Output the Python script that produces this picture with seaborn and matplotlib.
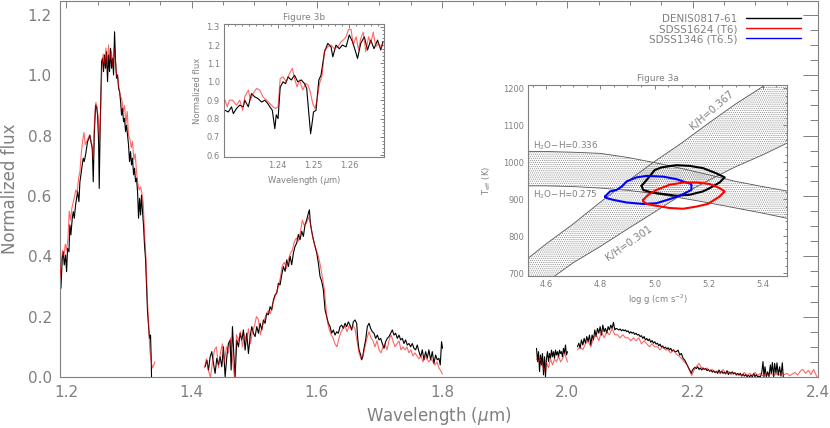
import numpy as np
import matplotlib
matplotlib.use("Agg")
import matplotlib.pyplot as plt
from matplotlib.lines import Line2D
from matplotlib.ticker import MultipleLocator, FixedLocator, FormatStrFormatter
import seaborn as sns

sns.set_style("white")
plt.rcParams['font.family'] = ['DejaVu Sans']
plt.rcParams['hatch.linewidth'] = 0.5
plt.rcParams['hatch.color'] = '#8c8c8c'

GRAY = '#808080'

# ---------------- main spectrum data (wavelength in micron, normalized flux) ----------------
j_wl_denis = [1.1899,1.1915,1.1936,1.1952,1.1968,1.1989,1.2005,1.2021,1.2043,1.2058,
              1.2074,1.2096,1.2112,1.2128,1.2149,1.2165,1.2181,1.2202,1.2218,1.2234,
              1.2255,1.2271,1.2287,1.2308,1.2324,1.2340,1.2362,1.2377,1.2393,1.2415,
              1.2431,1.2447,1.2468,1.2484,1.2500,1.2516,1.2526,1.2542,1.2564,1.2579,
              1.2595,1.2611,1.2627,1.2643,1.2659,1.2675,1.2691,1.2707,1.2723,1.2739,
              1.2755,1.2771,1.2787,1.2803,1.2819,1.2835,1.2851,1.2867,1.2883,1.2898,
              1.2914,1.2930,1.2946,1.2962,1.2978,1.2994,1.3010,1.3026,1.3042,1.3058,
              1.3074,1.3090,1.3106,1.3122,1.3138,1.3154,1.3170,1.3186,1.3201,1.3217,
              1.3233,1.3249,1.3265,1.3281,1.3297,1.3313,1.3329,1.3345,1.3356,1.3361]
j_fx_denis = [0.415,0.294,0.393,0.415,0.371,0.404,0.349,0.426,0.415,0.504,
              0.471,0.526,0.548,0.526,0.570,0.592,0.614,0.581,0.647,0.670,
              0.703,0.725,0.714,0.736,0.758,0.780,0.791,0.802,0.780,0.758,
              0.647,0.802,0.901,0.895,0.868,0.780,0.625,0.835,1.045,1.056,
              1.012,1.067,1.023,1.078,0.979,1.067,1.012,1.089,1.023,1.056,
              1.001,1.144,1.045,0.990,1.001,0.957,0.946,0.913,0.868,0.890,
              0.846,0.857,0.813,0.835,0.802,0.769,0.714,0.747,0.703,0.725,
              0.670,0.692,0.647,0.659,0.614,0.526,0.592,0.537,0.603,0.548,
              0.504,0.437,0.393,0.305,0.216,0.172,0.128,0.139,0.061,0.000]

j_wl_sdss1624 = [1.1899,1.1920,1.1942,1.1963,1.1984,1.2005,1.2027,1.2048,1.2069,1.2090,
                 1.2112,1.2133,1.2154,1.2175,1.2197,1.2218,1.2239,1.2260,1.2282,1.2303,
                 1.2324,1.2346,1.2367,1.2388,1.2409,1.2431,1.2452,1.2473,1.2494,1.2516,
                 1.2532,1.2548,1.2569,1.2590,1.2611,1.2633,1.2654,1.2675,1.2696,1.2718,
                 1.2739,1.2760,1.2781,1.2803,1.2824,1.2845,1.2867,1.2888,1.2909,1.2930,
                 1.2952,1.2973,1.2994,1.3015,1.3037,1.3058,1.3079,1.3100,1.3122,1.3143,
                 1.3164,1.3186,1.3207,1.3228,1.3249,1.3271,1.3292,1.3313,1.3334,1.3356,
                 1.3377,1.3398,1.3414]
j_fx_sdss1624 = [0.33,0.38,0.42,0.40,0.44,0.42,0.46,0.55,0.52,0.56,
                 0.58,0.60,0.62,0.61,0.66,0.68,0.74,0.78,0.81,0.77,
                 0.78,0.79,0.80,0.79,0.77,0.72,0.86,0.91,0.89,0.84,
                 0.78,0.88,1.03,1.07,1.04,1.09,1.03,1.10,1.05,1.08,
                 1.03,1.09,1.06,1.00,0.99,0.95,0.93,0.92,0.88,0.90,
                 0.84,0.88,0.80,0.79,0.76,0.78,0.72,0.74,0.68,0.64,
                 0.62,0.63,0.61,0.58,0.48,0.40,0.27,0.18,0.09,0.05,
                 0.03,0.04,0.05]

h_wl_denis = [1.4217,1.4244,1.4270,1.4297,1.4323,1.4350,1.4376,1.4403,1.4430,1.4456,
              1.4483,1.4509,1.4536,1.4563,1.4589,1.4616,1.4632,1.4653,1.4674,1.4695,
              1.4722,1.4749,1.4775,1.4802,1.4828,1.4855,1.4881,1.4908,1.4935,1.4961,
              1.4988,1.5014,1.5041,1.5068,1.5094,1.5121,1.5147,1.5174,1.5200,1.5227,
              1.5254,1.5280,1.5307,1.5333,1.5360,1.5386,1.5413,1.5440,1.5466,1.5493,
              1.5519,1.5546,1.5573,1.5599,1.5626,1.5652,1.5679,1.5705,1.5732,1.5759,
              1.5785,1.5812,1.5838,1.5865,1.5881,1.5897,1.5918,1.5945,1.5971,1.5998,
              1.6024,1.6051,1.6078,1.6104,
              1.6131,1.6157,1.6184,1.6211,1.6237,1.6264,1.6290,1.6317,1.6343,1.6370,
              1.6397,1.6423,1.6450,1.6476,1.6503,1.6529,1.6556,1.6583,1.6609,1.6636,
              1.6652,1.6673,1.6700,1.6716,1.6732,1.6753,1.6779,1.6806,1.6833,1.6859,
              1.6886,1.6912,1.6939,1.6966,1.6992,1.7019,1.7045,1.7072,1.7098,1.7125,
              1.7152,1.7178,1.7205,1.7231,1.7258,1.7285,1.7311,1.7338,1.7364,1.7391,
              1.7417,1.7444,1.7471,1.7497,1.7524,1.7550,1.7577,1.7603,1.7630,1.7657,
              1.7683,1.7710,1.7736,1.7763,1.7789,1.7816,1.7843,1.7869,1.7896,1.7922,
              1.7949,1.7970,1.7991,1.8007]
h_fx_denis = [0.034,0.056,0.023,0.067,0.084,0.045,0.012,0.062,0.040,0.067,
              0.034,0.100,0.000,0.067,0.111,0.122,0.023,0.167,0.078,0.000,
              0.122,0.100,0.145,0.122,0.156,0.089,0.145,0.078,0.134,0.167,
              0.145,0.134,0.167,0.145,0.178,0.156,0.189,0.178,0.211,0.206,
              0.233,0.222,0.255,0.272,0.278,0.311,0.305,0.339,0.366,0.350,
              0.388,0.366,0.400,0.372,0.411,0.433,0.444,0.472,0.455,0.483,
              0.466,0.505,0.521,0.543,0.554,0.510,0.483,0.455,0.433,0.411,
              0.378,0.333,0.317,0.289,
              0.222,0.200,0.178,0.167,0.145,0.156,0.139,0.150,0.145,0.167,
              0.172,0.161,0.178,0.167,0.183,0.172,0.156,0.183,0.189,0.178,
              0.128,0.090,0.073,0.057,0.067,0.095,0.123,0.167,0.178,0.161,
              0.150,0.145,0.128,0.139,0.123,0.128,0.111,0.095,0.117,0.128,
              0.134,0.145,0.156,0.139,0.145,0.128,0.139,0.123,0.128,0.111,
              0.123,0.106,0.111,0.100,0.111,0.095,0.090,0.106,0.084,0.067,
              0.090,0.057,0.084,0.062,0.090,0.057,0.084,0.045,0.073,0.057,
              0.062,0.040,0.117,0.095]

h_wl_sdss1624 = [1.4206,1.4238,1.4270,1.4302,1.4334,1.4366,1.4398,1.4430,1.4461,1.4493,
                 1.4525,1.4557,1.4589,1.4621,1.4653,1.4685,1.4717,1.4749,1.4780,1.4812,
                 1.4844,1.4876,1.4908,1.4940,1.4972,1.5004,1.5036,1.5067,1.5099,1.5131,
                 1.5163,1.5195,1.5227,1.5259,1.5291,1.5323,1.5355,1.5386,1.5418,1.5450,
                 1.5482,1.5514,1.5546,1.5578,1.5610,1.5642,1.5673,1.5705,1.5737,1.5769,
                 1.5801,1.5833,1.5865,1.5897,1.5929,1.5961,1.5992,1.6024,1.6056,1.6088,
                 1.6120,
                 1.6163,1.6195,1.6227,1.6258,1.6290,1.6322,1.6354,1.6386,1.6418,1.6450,
                 1.6482,1.6514,1.6545,1.6577,1.6609,1.6641,1.6673,1.6705,1.6737,1.6769,
                 1.6801,1.6833,1.6864,1.6896,1.6928,1.6960,1.6992,1.7024,1.7056,1.7088,
                 1.7120,1.7151,1.7183,1.7215,1.7247,1.7279,1.7311,1.7343,1.7375,1.7407,
                 1.7438,1.7470,1.7502,1.7534,1.7566,1.7598,1.7630,1.7662,1.7694,1.7726,
                 1.7757,1.7789,1.7821,1.7853,1.7885,1.7917,1.7949,1.7981,1.8002]
h_fx_sdss1624 = [0.03,0.06,0.02,0.00,0.05,0.09,0.10,0.03,0.08,0.11,
                 0.05,0.10,0.08,0.13,0.06,0.00,0.14,0.12,0.15,0.10,
                 0.14,0.12,0.16,0.11,0.15,0.17,0.20,0.19,0.14,0.17,
                 0.19,0.21,0.22,0.21,0.24,0.26,0.28,0.30,0.33,0.37,
                 0.38,0.36,0.39,0.41,0.42,0.45,0.46,0.45,0.48,0.52,
                 0.50,0.51,0.53,0.51,0.47,0.44,0.42,0.40,0.37,0.33,
                 0.29,
                 0.19,0.16,0.14,0.13,0.11,0.10,0.13,0.15,0.16,0.17,
                 0.15,0.17,0.16,0.17,0.16,0.12,0.08,0.06,0.07,0.10,
                 0.13,0.15,0.13,0.12,0.10,0.12,0.09,0.08,0.10,0.11,
                 0.09,0.12,0.14,0.12,0.10,0.11,0.12,0.09,0.10,0.09,
                 0.10,0.08,0.09,0.07,0.08,0.07,0.06,0.07,0.05,0.07,
                 0.06,0.05,0.06,0.05,0.04,0.05,0.03,0.02,0.01]

k1_wl_denis = [1.9507,1.9523,1.9539,1.9555,1.9571,1.9586,1.9602,1.9618,1.9634,1.9650,
               1.9666,1.9682,1.9698,1.9714,1.9730,1.9746,1.9762,1.9778,1.9794,1.9810,
               1.9826,1.9842,1.9858,1.9874,1.9890,1.9905,1.9921,1.9937,1.9953,1.9969,
               1.9985,2.0001]
k1_fx_denis = [0.095,0.051,0.084,0.018,0.073,0.040,0.078,0.007,0.067,0.001,
               0.062,0.084,0.051,0.078,0.062,0.089,0.067,0.084,0.062,0.089,
               0.073,0.084,0.067,0.089,0.078,0.084,0.067,0.095,0.078,0.106,
               0.073,0.084]
k1_wl_sdss1624 = [1.9507,1.9539,1.9571,1.9602,1.9634,1.9666,1.9698,1.9730,1.9762,1.9794,
                  1.9826,1.9858,1.9890,1.9921,1.9953,1.9985,2.0001]
k1_fx_sdss1624 = [0.06,0.05,0.06,0.04,0.02,0.05,0.03,0.06,0.04,0.06,
                  0.05,0.07,0.05,0.06,0.08,0.06,0.05]

k2_wl_denis = [2.0161,2.0182,2.0203,2.0224,2.0246,2.0267,2.0288,2.0309,2.0331,2.0352,
               2.0373,2.0394,2.0416,2.0437,2.0458,2.0480,2.0501,2.0522,2.0543,2.0565,
               2.0586,2.0607,2.0628,2.0650,2.0671,2.0692,2.0713,2.0735,2.0756,2.0777,
               2.0799,2.0820,2.0841,2.0862,2.0884,2.0905,2.0926,2.0947,2.0969,2.0990,
               2.1011,2.1032,2.1054,2.1075,2.1096,2.1118,2.1139,2.1160,2.1181,2.1203,
               2.1224,2.1245,2.1266,2.1288,2.1309,2.1330,2.1351,2.1373,2.1394,2.1415,
               2.1437,2.1458,2.1479,2.1500,2.1522,2.1543,2.1564,2.1585,2.1607,2.1628,
               2.1649,2.1670,2.1692,2.1713,
               2.1740,2.1766,2.1793,2.1819,2.1846,2.1873,2.1899,2.1926,2.1952,2.1979,
               2.1995,2.2016,2.2037,2.2059,2.2080,2.2101,2.2122,2.2144,2.2165,2.2186,
               2.2207,2.2229,2.2250,2.2271,2.2293,2.2314,2.2335,2.2356,2.2378,2.2399,
               2.2420,2.2441,2.2463,2.2484,2.2505,2.2526,2.2548,2.2569,2.2590,2.2612,
               2.2633,2.2654,2.2675,2.2697,2.2718,2.2739,2.2760,2.2782,2.2803,2.2824,
               2.2845,2.2867,2.2888,2.2909,2.2930,2.2952,2.2973,2.2994,2.3016,2.3037,
               2.3058,2.3079,2.3101,2.3122,2.3138,2.3154,2.3175,2.3196,2.3218,2.3239,
               2.3255,2.3271,2.3292,2.3308,2.3329,2.3345,2.3366,2.3387,2.3409,2.3430,
               2.3446]
k2_fx_denis = [0.100,0.112,0.095,0.123,0.106,0.128,0.112,0.134,0.117,0.139,
               0.106,0.139,0.123,0.156,0.134,0.161,0.145,0.167,0.139,0.172,
               0.150,0.161,0.145,0.167,0.156,0.172,0.161,0.181,0.156,0.161,
               0.159,0.156,0.159,0.153,0.157,0.153,0.156,0.150,0.153,0.145,
               0.150,0.145,0.148,0.141,0.145,0.139,0.141,0.134,0.137,0.128,
               0.134,0.123,0.128,0.120,0.126,0.115,0.121,0.112,0.117,0.109,
               0.112,0.103,0.109,0.099,0.103,0.095,0.099,0.093,0.097,0.090,
               0.095,0.086,0.090,0.084,
               0.084,0.089,0.073,0.078,0.062,0.056,0.045,0.034,0.023,0.012,
               0.023,0.028,0.032,0.028,0.034,0.025,0.030,0.023,0.030,0.025,
               0.028,0.021,0.025,0.019,0.023,0.016,0.021,0.014,0.019,0.012,
               0.023,0.014,0.019,0.012,0.016,0.010,0.021,0.008,0.016,0.012,
               0.017,0.010,0.014,0.008,0.012,0.006,0.012,0.003,0.010,0.003,
               0.008,0.001,0.006,0.001,0.006,0.001,0.012,0.001,0.008,0.000,
               0.003,0.000,0.012,0.051,0.001,0.034,0.001,0.017,0.001,0.040,
               0.012,0.048,0.001,0.045,0.012,0.047,0.006,0.034,0.003,0.047,
               0.000]

k2_wl_sdss1624 = [2.0161,2.0203,2.0246,2.0288,2.0331,2.0373,2.0416,2.0458,2.0501,2.0543,
                  2.0586,2.0628,2.0671,2.0713,2.0756,2.0799,2.0841,2.0884,2.0926,2.0969,
                  2.1011,2.1054,2.1096,2.1139,2.1181,2.1224,2.1266,2.1309,2.1351,2.1394,
                  2.1437,2.1479,2.1522,2.1564,2.1607,2.1649,2.1692,
                  2.1740,2.1782,2.1825,2.1867,2.1910,2.1952,2.1984,2.2016,2.2059,2.2101,
                  2.2144,2.2186,2.2229,2.2271,2.2314,2.2356,2.2399,2.2441,2.2484,2.2526,
                  2.2569,2.2612,2.2654,2.2697,2.2739,2.2782,2.2824,2.2867,2.2909,2.2952,
                  2.2994,2.3037,2.3079,2.3122,2.3164,2.3207,2.3250,2.3292,2.3335,2.3377,
                  2.3420,2.3462,2.3505,2.3547,2.3590,2.3633,2.3675,2.3718,2.3760,2.3803,
                  2.3845,2.3888,2.3930,2.3962,2.3983]
k2_fx_sdss1624 = [0.09,0.10,0.09,0.11,0.12,0.10,0.13,0.14,0.12,0.15,
                  0.13,0.15,0.14,0.16,0.14,0.14,0.13,0.14,0.13,0.13,
                  0.12,0.13,0.12,0.13,0.11,0.12,0.11,0.10,0.11,0.10,
                  0.10,0.09,0.10,0.09,0.09,0.08,0.09,
                  0.075,0.070,0.060,0.050,0.040,0.020,0.005,0.020,0.035,0.045,
                  0.030,0.025,0.030,0.020,0.025,0.015,0.020,0.010,0.025,0.012,
                  0.018,0.008,0.015,0.005,0.012,0.004,0.015,0.006,0.012,0.005,
                  0.015,0.006,0.012,0.004,0.010,0.005,0.012,0.004,0.010,0.006,
                  0.015,0.008,0.012,0.004,0.010,0.015,0.006,0.020,0.025,0.012,
                  0.022,0.008,0.025,0.010,0.000]

# ---------------- Figure 3b (zoom on the K I doublet) ----------------
b_wl_denis = [1.2253,1.2262,1.2271,1.2276,1.2285,1.2294,1.2304,1.2308,1.2318,1.2322,
              1.2327,1.2336,1.2345,1.2355,1.2364,1.2373,1.2378,1.2385,1.2392,1.2396,
              1.2401,1.2407,1.2415,1.2422,1.2429,1.2438,1.2447,1.2456,1.2466,1.2475,
              1.2481,1.2487,1.2492,1.2496,1.2500,1.2507,1.2515,1.2521,1.2531,1.2540,
              1.2549,1.2554,1.2563,1.2572,1.2581,1.2591,1.2600,1.2609,1.2619,1.2623,
              1.2632,1.2642,1.2651,1.2660,1.2669,1.2679,1.2688,1.2694]
b_fx_denis = [0.845,0.836,0.864,0.827,0.855,0.873,0.864,0.900,0.864,0.900,
              0.936,0.918,0.909,0.890,0.900,0.880,0.864,0.845,0.745,0.820,
              0.800,0.970,1.000,0.990,1.027,1.010,1.036,1.000,1.010,0.990,
              0.964,0.827,0.718,0.773,0.836,0.845,1.010,1.036,1.164,1.209,
              1.190,1.136,1.200,1.180,1.200,1.190,1.255,1.218,1.155,1.127,
              1.209,1.245,1.173,1.227,1.180,1.227,1.173,1.218]
b_wl_sdss1624 = [1.2253,1.2259,1.2265,1.2274,1.2285,1.2294,1.2302,1.2308,1.2318,1.2324,
                 1.2331,1.2341,1.2350,1.2359,1.2369,1.2378,1.2387,1.2394,1.2401,1.2407,
                 1.2415,1.2424,1.2433,1.2441,1.2447,1.2454,1.2461,1.2470,1.2478,1.2485,
                 1.2491,1.2498,1.2504,1.2509,1.2517,1.2524,1.2531,1.2540,1.2549,1.2558,
                 1.2568,1.2577,1.2583,1.2591,1.2598,1.2605,1.2611,1.2619,1.2626,1.2632,
                 1.2639,1.2646,1.2654,1.2660,1.2667,1.2674,1.2681,1.2688,1.2694]
b_fx_sdss1624 = [0.900,0.864,0.900,0.900,0.873,0.900,0.845,0.918,0.955,0.900,
                 0.936,0.964,0.955,0.918,0.900,0.882,0.864,0.855,0.864,1.018,
                 1.027,1.000,1.045,1.073,1.018,0.973,1.010,0.955,0.991,0.980,
                 0.945,0.882,0.855,0.891,0.991,1.036,1.173,1.190,1.200,1.180,
                 1.190,1.218,1.227,1.245,1.285,1.285,1.200,1.245,1.173,1.236,
                 1.270,1.164,1.245,1.209,1.270,1.190,1.209,1.180,1.209]
b_xticks = [1.24, 1.25, 1.26]

# ---------------- Figure 3a (Teff vs log g) ----------------
logg_grid = [4.53, 4.6, 4.7, 4.8, 4.9, 5.0, 5.1, 5.2, 5.3, 5.4, 5.49]
teff_h2o_336 = [1029, 1029, 1027, 1024, 1013, 999, 983, 966, 948, 934, 922]
teff_h2o_275 = [936, 936, 934, 930, 924, 915, 903, 890, 876, 862, 848]
teff_kh_367 = [738, 779, 833, 892, 948, 1002, 1052, 1106, 1158, 1205, 1250]
teff_kh_301 = [628, 675, 728, 772, 819, 865, 912, 951, 988, 1020, 1052]

cont_denis_logg = [4.952, 4.971, 5.001, 5.026, 5.081, 5.130, 5.179, 5.228, 5.259, 5.240,
                   5.204, 5.179, 5.130, 5.081, 5.032, 4.989, 4.958, 4.952]
cont_denis_teff = [936, 952, 979, 986, 992, 990, 984, 970, 959, 945,
                   930, 921, 912, 909, 914, 918, 925, 936]
cont_1346_logg = [4.817, 4.836, 4.860, 4.879, 4.897, 4.934, 4.971, 5.032, 5.081, 5.118,
                  5.136, 5.136, 5.093, 5.056, 5.007, 4.958, 4.897, 4.848, 4.823, 4.817]
cont_1346_teff = [907, 921, 925, 934, 948, 959, 963, 961, 954, 945,
                  941, 925, 909, 900, 889, 887, 891, 898, 903, 907]
cont_1624_logg = [4.958, 4.977, 5.007, 5.056, 5.106, 5.155, 5.204, 5.240, 5.259, 5.240,
                  5.197, 5.155, 5.106, 5.056, 5.007, 4.971, 4.958, 4.958]
cont_1624_teff = [898, 912, 925, 939, 945, 945, 941, 930, 921, 907,
                  887, 880, 874, 876, 882, 887, 894, 898]

legend_labels = ["DENIS0817-61", "SDSS1624 (T6)", "SDSS1346 (T6.5)"]
BLACK, RED, BLUE = "#000000", "#ff0000", "#0000ff"

# ---------------- figure ----------------
W, H = 830, 428
fig = plt.figure(figsize=(W / 100, H / 100), dpi=100)


def box(l, t, r, b):
    return [l / W, 1 - b / H, (r - l) / W, (b - t) / H]


def style(ax, fs, xl=(5, 3), yl=(5, 3), pad=3):
    for s in ax.spines.values():
        s.set_color(GRAY)
        s.set_linewidth(0.8)
    ax.tick_params(which='both', direction='in', top=True, right=True,
                   colors=GRAY, labelcolor=GRAY, labelsize=fs, width=0.7, pad=pad)
    ax.tick_params(axis='x', which='major', length=xl[0])
    ax.tick_params(axis='x', which='minor', length=xl[1])
    ax.tick_params(axis='y', which='major', length=yl[0])
    ax.tick_params(axis='y', which='minor', length=yl[1])


def spec(ax, x, y, color, lw, alpha=1.0, z=2):
    sns.lineplot(x=x, y=y, ax=ax, color=color, lw=lw, alpha=alpha, sort=False,
                 estimator=None, legend=False, zorder=z)


# main panel
ax = fig.add_axes(box(60, 1, 818, 377))
for wl, fx in [(j_wl_denis, j_fx_denis), (h_wl_denis, h_fx_denis),
               (k1_wl_denis, k1_fx_denis), (k2_wl_denis, k2_fx_denis)]:
    spec(ax, wl, fx, BLACK, 0.8, z=2)
for wl, fx in [(j_wl_sdss1624, j_fx_sdss1624), (h_wl_sdss1624, h_fx_sdss1624),
               (k1_wl_sdss1624, k1_fx_sdss1624), (k2_wl_sdss1624, k2_fx_sdss1624)]:
    spec(ax, wl, fx, RED, 0.8, alpha=0.6, z=3)
ax.set_xlim(1.19, 2.4)
ax.set_ylim(0, 1.246)
ax.xaxis.set_major_locator(MultipleLocator(0.2))
ax.xaxis.set_minor_locator(MultipleLocator(0.05))
ax.yaxis.set_major_locator(MultipleLocator(0.2))
ax.yaxis.set_minor_locator(MultipleLocator(0.05))
ax.xaxis.set_major_formatter(FormatStrFormatter('%.1f'))
ax.yaxis.set_major_formatter(FormatStrFormatter('%.1f'))
style(ax, 11, xl=(5, 3), yl=(10.8, 5.8), pad=6)
ax.set_xlabel(r"Wavelength ($\mu$m)", fontsize=12, color=GRAY)
ax.set_ylabel("Normalized flux", fontsize=12, color=GRAY)
ax.xaxis.set_label_coords(0.5, -0.075)
ax.yaxis.set_label_coords(-0.054, 0.5)

handles = [Line2D([], [], color=c, lw=1.0) for c in (BLACK, RED, BLUE)]
leg = ax.legend(handles, legend_labels, loc='upper right',
                bbox_to_anchor=(801 / W, 1 - 14 / H), bbox_transform=fig.transFigure,
                frameon=False, fontsize=7.5, handlelength=5.3, handletextpad=0.8,
                labelspacing=0.0, markerfirst=False, borderpad=0, borderaxespad=0)
for t in leg.get_texts():
    t.set_color(GRAY)

# inset Figure 3b
axb = fig.add_axes(box(224, 24, 384, 157), zorder=5)
axb.set_facecolor('white')
spec(axb, b_wl_denis, b_fx_denis, BLACK, 0.8, z=2)
spec(axb, b_wl_sdss1624, b_fx_sdss1624, RED, 0.8, alpha=0.6, z=3)
axb.set_xlim(1.2250, 1.2697)
axb.set_ylim(0.591, 1.3145)
axb.xaxis.set_major_locator(FixedLocator(b_xticks))
axb.xaxis.set_minor_locator(MultipleLocator(0.002))
axb.yaxis.set_major_locator(MultipleLocator(0.1))
axb.yaxis.set_minor_locator(MultipleLocator(0.02))
axb.xaxis.set_major_formatter(FormatStrFormatter('%.2f'))
axb.yaxis.set_major_formatter(FormatStrFormatter('%.1f'))
style(axb, 6, xl=(3, 1.5), yl=(3, 1.5), pad=3)
axb.set_title("Figure 3b", fontsize=6.5, color=GRAY, pad=3)
axb.set_xlabel(r"Wavelength ($\mu$m)", fontsize=6, color=GRAY)
axb.set_ylabel("Normalized flux", fontsize=6, color=GRAY)
axb.xaxis.set_label_coords(0.5, -0.125)
axb.yaxis.set_label_coords(-0.14, 0.5)

# inset Figure 3a
axa = fig.add_axes(box(528, 85, 787, 276), zorder=5)
axa.set_facecolor('white')
axa.fill_between(logg_grid, teff_h2o_275, teff_h2o_336, facecolor='none',
                 edgecolor='#8c8c8c', hatch='........', linewidth=0)
axa.fill_between(logg_grid, teff_kh_301, teff_kh_367, facecolor='none',
                 edgecolor='#8c8c8c', hatch='........', linewidth=0)
for tt in (teff_h2o_336, teff_h2o_275, teff_kh_367, teff_kh_301):
    sns.lineplot(x=logg_grid, y=tt, ax=axa, color='#555555', lw=0.6, sort=False,
                 estimator=None, legend=False)
for gg, tt, c in [(cont_denis_logg, cont_denis_teff, BLACK),
                  (cont_1346_logg, cont_1346_teff, BLUE),
                  (cont_1624_logg, cont_1624_teff, RED)]:
    sns.lineplot(x=gg, y=tt, ax=axa, color=c, lw=1.5, sort=False,
                 estimator=None, legend=False, zorder=4)
axa.set_xlim(4.533, 5.489)
axa.set_ylim(692, 1209)
axa.xaxis.set_major_locator(MultipleLocator(0.2))
axa.xaxis.set_minor_locator(MultipleLocator(0.05))
axa.yaxis.set_major_locator(MultipleLocator(100))
axa.yaxis.set_minor_locator(MultipleLocator(20))
axa.xaxis.set_major_formatter(FormatStrFormatter('%.1f'))
style(axa, 6, xl=(3, 1.5), yl=(3, 1.5), pad=3)
axa.set_title("Figure 3a", fontsize=6.5, color=GRAY, pad=3)
axa.set_xlabel(r"log g (cm s$^{-2}$)", fontsize=6, color=GRAY)
axa.set_ylabel(r"T$_{\rm eff}$ (K)", fontsize=6, color=GRAY)
axa.xaxis.set_label_coords(0.5, -0.085)
axa.yaxis.set_label_coords(-0.135, 0.5)
axa.text(4.553, 1044, r"H$_2$O$-$H=0.336", fontsize=6.3, color=GRAY, ha='left', va='center')
axa.text(4.553, 912, r"H$_2$O$-$H=0.275", fontsize=6.3, color=GRAY, ha='left', va='center')
axa.text(5.210, 1140, "K/H=0.367", fontsize=7.2, color=GRAY, rotation=41,
         rotation_mode='anchor', ha='center', va='center')
axa.text(4.905, 780, "K/H=0.301", fontsize=7.2, color=GRAY, rotation=35,
         rotation_mode='anchor', ha='center', va='center')

fig.savefig("out.png", dpi=100)
